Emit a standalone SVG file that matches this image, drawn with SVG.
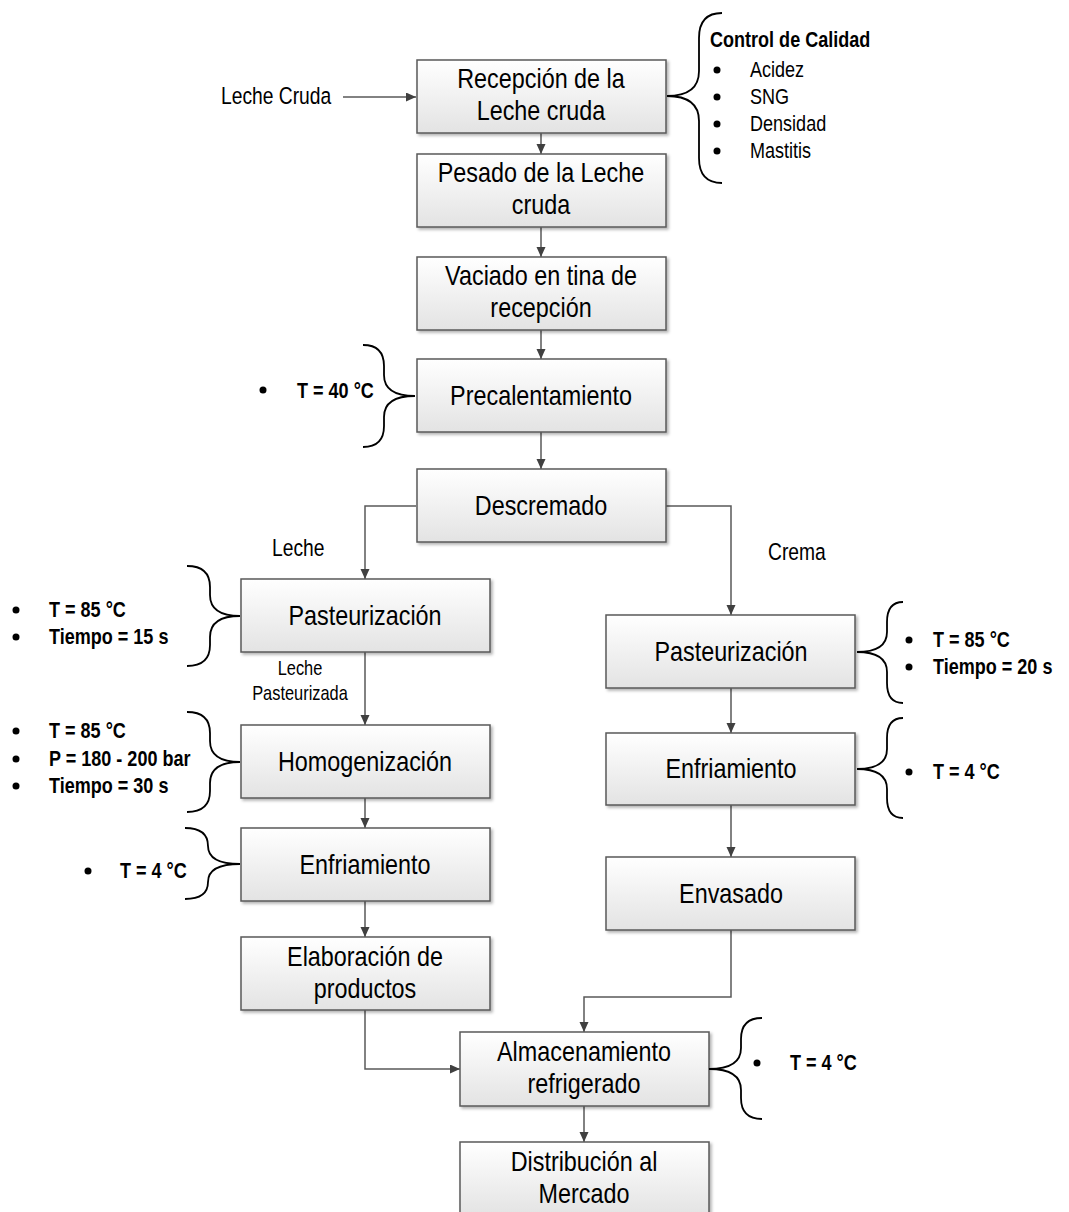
<svg xmlns="http://www.w3.org/2000/svg" width="1069" height="1212" viewBox="0 0 1069 1212">
<defs>
<linearGradient id="g" x1="0" y1="0" x2="0" y2="1">
<stop offset="0" stop-color="#ffffff"/>
<stop offset="1" stop-color="#e3e3e3"/>
</linearGradient>
<filter id="sh" x="-10%" y="-10%" width="120%" height="130%">
<feDropShadow dx="2" dy="2" stdDeviation="1.5" flood-color="#000" flood-opacity="0.3"/>
</filter>
<marker id="ah" markerUnits="userSpaceOnUse" markerWidth="11" markerHeight="10" refX="10" refY="4.5" orient="auto">
<path d="M0,0 L10,4.5 L0,9 z" fill="#404040"/>
</marker>
<style>
.box{fill:url(#g);stroke:#595959;stroke-width:1.5;filter:url(#sh)}
.bt{font-family:"Liberation Sans",Arial,sans-serif;font-size:28.5px;fill:#000;text-anchor:middle}
.lb{font-family:"Liberation Sans",Arial,sans-serif;font-size:23.5px;fill:#000}
.sm{font-family:"Liberation Sans",Arial,sans-serif;font-size:20px;fill:#000;text-anchor:middle}
.pb{font-family:"Liberation Sans",Arial,sans-serif;font-size:22px;font-weight:bold;fill:#000}
.pr{font-family:"Liberation Sans",Arial,sans-serif;font-size:22px;fill:#000}
.cn{fill:none;stroke:#595959;stroke-width:1.5}
.br{fill:none;stroke:#000;stroke-width:1.8}
.bu{fill:#000}
</style>
</defs>
<rect width="1069" height="1212" fill="#fff"/>

<g id="connectors">
<path class="cn" d="M343,97 H416" marker-end="url(#ah)"/>
<path class="cn" d="M541,133 V154" marker-end="url(#ah)"/>
<path class="cn" d="M541,227 V257" marker-end="url(#ah)"/>
<path class="cn" d="M541,330 V359" marker-end="url(#ah)"/>
<path class="cn" d="M541,432 V469" marker-end="url(#ah)"/>
<path class="cn" d="M416,506 H365 V579" marker-end="url(#ah)"/>
<path class="cn" d="M665,506 H731 V615" marker-end="url(#ah)"/>
<path class="cn" d="M365,652 V725" marker-end="url(#ah)"/>
<path class="cn" d="M365,798 V828" marker-end="url(#ah)"/>
<path class="cn" d="M365,901 V937" marker-end="url(#ah)"/>
<path class="cn" d="M365,1010 V1069 H460" marker-end="url(#ah)"/>
<path class="cn" d="M731,688 V733" marker-end="url(#ah)"/>
<path class="cn" d="M731,805 V857" marker-end="url(#ah)"/>
<path class="cn" d="M731,930 V997 H584 V1032" marker-end="url(#ah)"/>
<path class="cn" d="M584,1106 V1142" marker-end="url(#ah)"/>
</g>

<g id="label-leche-cruda"><text class="lb" transform="translate(221,104) scale(0.82,1)">Leche Cruda</text></g>
<g id="label-leche"><text class="lb" transform="translate(272,556) scale(0.82,1)">Leche</text></g>
<g id="label-crema"><text class="lb" transform="translate(768,560) scale(0.82,1)">Crema</text></g>
<g id="label-leche-pasteurizada"><text class="sm" transform="translate(300,675) scale(0.82,1)">Leche</text><text class="sm" transform="translate(300,700) scale(0.82,1)">Pasteurizada</text></g>

<g id="n-recepcion"><rect class="box" x="417" y="60" width="249" height="73"/><text class="bt" transform="translate(541,88) scale(0.82,1)">Recepción de la</text><text class="bt" transform="translate(541,120) scale(0.82,1)">Leche cruda</text></g>
<g id="n-pesado"><rect class="box" x="417" y="154" width="249" height="73"/><text class="bt" transform="translate(541,182) scale(0.82,1)">Pesado de la Leche</text><text class="bt" transform="translate(541,214) scale(0.82,1)">cruda</text></g>
<g id="n-vaciado"><rect class="box" x="417" y="257" width="249" height="73"/><text class="bt" transform="translate(541,285) scale(0.82,1)">Vaciado en tina de</text><text class="bt" transform="translate(541,317) scale(0.82,1)">recepción</text></g>
<g id="n-precalentamiento"><rect class="box" x="417" y="359" width="249" height="73"/><text class="bt" transform="translate(541,405) scale(0.82,1)">Precalentamiento</text></g>
<g id="n-descremado"><rect class="box" x="417" y="469" width="249" height="73"/><text class="bt" transform="translate(541,515) scale(0.82,1)">Descremado</text></g>
<g id="n-pasteurizacion-l"><rect class="box" x="241" y="579" width="249" height="73"/><text class="bt" transform="translate(365,625) scale(0.82,1)">Pasteurización</text></g>
<g id="n-homogenizacion"><rect class="box" x="241" y="725" width="249" height="73"/><text class="bt" transform="translate(365,771) scale(0.82,1)">Homogenización</text></g>
<g id="n-enfriamiento-l"><rect class="box" x="241" y="828" width="249" height="73"/><text class="bt" transform="translate(365,874) scale(0.82,1)">Enfriamiento</text></g>
<g id="n-elaboracion"><rect class="box" x="241" y="937" width="249" height="73"/><text class="bt" transform="translate(365,966) scale(0.82,1)">Elaboración de</text><text class="bt" transform="translate(365,998) scale(0.82,1)">productos</text></g>
<g id="n-pasteurizacion-r"><rect class="box" x="606" y="615" width="249" height="73"/><text class="bt" transform="translate(731,661) scale(0.82,1)">Pasteurización</text></g>
<g id="n-enfriamiento-r"><rect class="box" x="606" y="733" width="249" height="72"/><text class="bt" transform="translate(731,778) scale(0.82,1)">Enfriamiento</text></g>
<g id="n-envasado"><rect class="box" x="606" y="857" width="249" height="73"/><text class="bt" transform="translate(731,903) scale(0.82,1)">Envasado</text></g>
<g id="n-almacenamiento"><rect class="box" x="460" y="1032" width="249" height="74"/><text class="bt" transform="translate(584,1061) scale(0.82,1)">Almacenamiento</text><text class="bt" transform="translate(584,1093) scale(0.82,1)">refrigerado</text></g>
<g id="n-distribucion"><rect class="box" x="460" y="1142" width="249" height="74"/><text class="bt" transform="translate(584,1171) scale(0.82,1)">Distribución al</text><text class="bt" transform="translate(584,1203) scale(0.82,1)">Mercado</text></g>

<g id="a-control">
<path class="br" d="M722,13 Q699,13 699,38 L699,71 Q699,96 667,96 Q699,96 699,121 L699,158 Q699,183 722,183"/>
<text class="pb" transform="translate(710,47) scale(0.82,1)">Control de Calidad</text>
<circle class="bu" cx="717" cy="70" r="3.5"/><text class="pr" transform="translate(750,77) scale(0.82,1)">Acidez</text>
<circle class="bu" cx="717" cy="97" r="3.5"/><text class="pr" transform="translate(750,104) scale(0.82,1)">SNG</text>
<circle class="bu" cx="717" cy="124" r="3.5"/><text class="pr" transform="translate(750,131) scale(0.82,1)">Densidad</text>
<circle class="bu" cx="717" cy="151" r="3.5"/><text class="pr" transform="translate(750,158) scale(0.82,1)">Mastitis</text>
</g>
<g id="a-precal">
<path class="br" d="M363,345 Q384,345 384,366 L384,375 Q384,396 415,396 Q384,396 384,417 L384,426 Q384,447 363,447"/>
<circle class="bu" cx="263" cy="390" r="3.5"/><text class="pb" transform="translate(297,398) scale(0.82,1)">T = 40 °C</text>
</g>
<g id="a-past-l">
<path class="br" d="M187,566 Q210,566 210,587 L210,595 Q210,616 240,616 Q210,616 210,637 L210,645 Q210,666 187,666"/>
<circle class="bu" cx="16" cy="610" r="3.5"/><text class="pb" transform="translate(49,617) scale(0.82,1)">T = 85 °C</text>
<circle class="bu" cx="16" cy="637" r="3.5"/><text class="pb" transform="translate(49,644) scale(0.82,1)">Tiempo = 15 s</text>
</g>
<g id="a-homog">
<path class="br" d="M187,712 Q210,712 210,733 L210,741 Q210,762 240,762 Q210,762 210,783 L210,791 Q210,812 187,812"/>
<circle class="bu" cx="16" cy="731" r="3.5"/><text class="pb" transform="translate(49,738) scale(0.82,1)">T = 85 °C</text>
<circle class="bu" cx="16" cy="759" r="3.5"/><text class="pb" transform="translate(49,766) scale(0.82,1)">P = 180 - 200 bar</text>
<circle class="bu" cx="16" cy="786" r="3.5"/><text class="pb" transform="translate(49,793) scale(0.82,1)">Tiempo = 30 s</text>
</g>
<g id="a-enf-l">
<path class="br" d="M185,828 Q208,828 208,846 Q208,864 240,864 Q208,864 208,882 Q208,899 185,899"/>
<circle class="bu" cx="88" cy="871" r="3.5"/><text class="pb" transform="translate(120,878) scale(0.82,1)">T = 4 °C</text>
</g>
<g id="a-past-r">
<path class="br" d="M903,602 Q887,602 887,622 L887,632 Q887,652 857,652 Q887,652 887,672 L887,683 Q887,703 903,703"/>
<circle class="bu" cx="909" cy="640" r="3.5"/><text class="pb" transform="translate(933,647) scale(0.82,1)">T = 85 °C</text>
<circle class="bu" cx="909" cy="667" r="3.5"/><text class="pb" transform="translate(933,674) scale(0.82,1)">Tiempo = 20 s</text>
</g>
<g id="a-enf-r">
<path class="br" d="M903,718 Q887,718 887,738 L887,749 Q887,769 857,769 Q887,769 887,789 L887,798 Q887,818 903,818"/>
<circle class="bu" cx="909" cy="772" r="3.5"/><text class="pb" transform="translate(933,779) scale(0.82,1)">T = 4 °C</text>
</g>
<g id="a-almac">
<path class="br" d="M762,1018 Q741,1018 741,1039 L741,1048 Q741,1069 709,1069 Q741,1069 741,1090 L741,1098 Q741,1119 762,1119"/>
<circle class="bu" cx="757" cy="1063" r="3.5"/><text class="pb" transform="translate(790,1070) scale(0.82,1)">T = 4 °C</text>
</g>
</svg>
